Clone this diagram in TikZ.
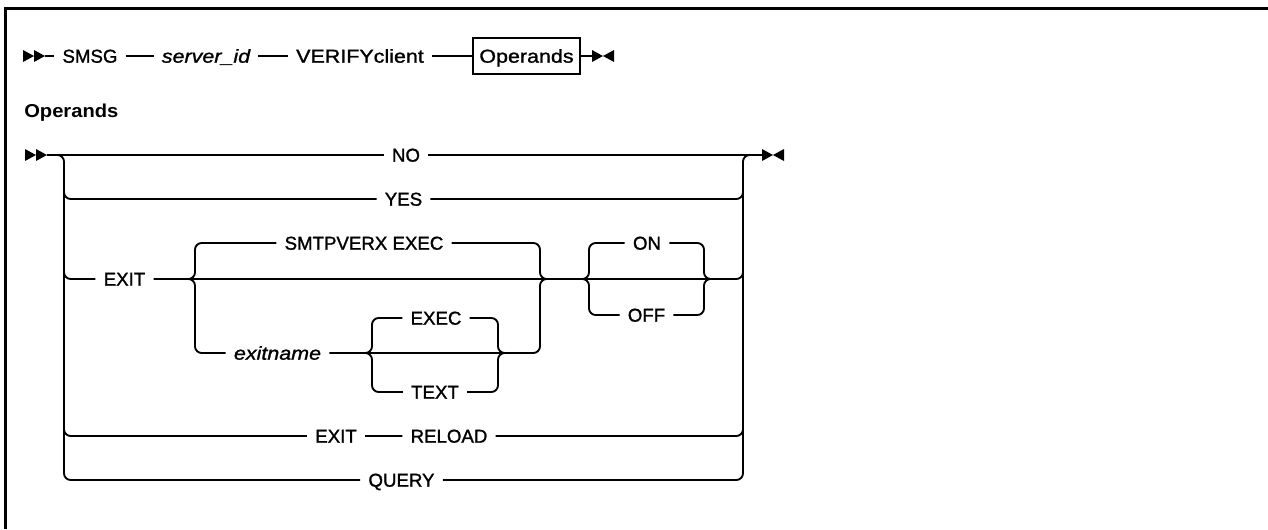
\documentclass[tikz,border=0pt]{standalone}
\usepackage{fontspec}
\setmainfont{Liberation Sans}
\newfontfamily\railfont{Liberation Sans}[FakeBold=1.3]
\newfontfamily\widefont{Liberation Sans}[FakeBold=1.3, FakeStretch=1.15]
\newfontfamily\headfont{Liberation Sans}[FakeStretch=1.08]
\usetikzlibrary{calc}

\begin{document}
\begin{tikzpicture}[
  x=0.75pt,
  y=-0.75pt,
  rail/.style={line width=1.4pt, rounded corners=5pt},
  kw/.style={font=\railfont\fontsize{14}{16}\selectfont, inner xsep=6pt, inner ysep=0pt,
    text height=10pt, text depth=0pt},
  wide/.style={kw, font=\widefont\fontsize{14}{16}\selectfont},
  var/.style={kw, font=\widefont\fontsize{14}{16}\selectfont\itshape},
  ref/.style={wide, draw, line width=1.4pt, inner xsep=5pt, minimum height=27pt},
  start mark/.pic={\fill (0,-6) -- (11,0) -- (0,6) -- cycle
    (11,-6) -- (22,0) -- (11,6) -- cycle;},
  stop mark/.pic={\fill (0,-6) -- (11,0) -- (0,6) -- cycle
    (22,-6) -- (11,0) -- (22,6) -- cycle;}
]
  \useasboundingbox (0,0) rectangle (1268,529);
  \draw[line width=2pt] (5.5,529) |- (1268,8.5);

  % command line
  \pic at (23,56) {start mark};
  \coordinate (s1) at (45,56);
  \node[kw] (smsg) at (90,56) {SMSG};
  \node[var] (srv) at (206,56) {server\_id};
  \node[wide] (verify) at (360,56) {VERIFYclient};
  \node[ref] (opsref) at (526.5,56) {Operands};
  \coordinate (e1) at (592,56);
  \pic at (592,56) {stop mark};
  \draw[rail] (s1) -- (smsg) -- (srv) -- (verify) -- (opsref) -- (e1);

  \node[kw, font=\headfont\fontsize{14}{16}\selectfont\bfseries, anchor=west, inner xsep=0pt]
    (ophead) at (24,111) {Operands};

  % operands fragment
  \pic at (25,155) {start mark};
  \coordinate (s2) at (47,155);
  \coordinate (e2) at (762,155);
  \pic at (762,155) {stop mark};
  \coordinate (lb) at (64,155);
  \coordinate (rb) at (743,155);

  \node[kw] (no) at (406,155) {NO};
  \node[kw] (yes) at (403.5,199) {YES};
  \node[kw] (exit1) at (124.5,279) {EXIT};
  \node[kw] (smtp) at (364,243) {SMTPVERX EXEC};
  \node[var] (exitname) at (277.5,353) {exitname};
  \node[kw] (exec) at (436,318) {EXEC};
  \node[kw] (text) at (435,392) {TEXT};
  \node[kw] (on) at (647,243) {ON};
  \node[kw] (off) at (646.5,315) {OFF};
  \node[kw] (exit2) at (336,436) {EXIT};
  \node[kw] (reload) at (449,436) {RELOAD};
  \node[kw] (query) at (401.5,480) {QUERY};

  \coordinate (exl) at (195,279);
  \coordinate (exr) at (540,279);
  \coordinate (enl) at (372,353);
  \coordinate (enr) at (498,353);
  \coordinate (ool) at (589,279);
  \coordinate (oor) at (704,279);

  % main choice
  \draw[rail] (s2) -- (no) -- (e2);
  \draw[rail] (s2) -| (lb |- query) -- (query) -| (rb) -- (e2);
  \draw[rail] ([yshift=-8pt]lb) |- (yes) -| ([yshift=-8pt]rb);
  \draw[rail] ([yshift=-8pt]lb) |- (exit1) -| ([yshift=-8pt]rb);
  \draw[rail] ([yshift=-8pt]lb) |- (exit2) -- (reload) -| ([yshift=-8pt]rb);

  % exit routine
  \draw[rail] ([xshift=-6pt]exl) -| (exl |- smtp) -- (smtp);
  \draw[rail] ([xshift=-6pt]exl) -| (exl |- exitname) -- (exitname);
  \draw[rail] (smtp) -| (exr) -- ([xshift=6pt]exr);
  \draw[rail] (exitname) -| (exr) -- ([xshift=6pt]exr);

  % exec or text
  \draw[rail] ([xshift=-6pt]enl) -| (enl |- exec) -- (exec);
  \draw[rail] ([xshift=-6pt]enl) -| (enl |- text) -- (text);
  \draw[rail] (exec) -| (enr) -- ([xshift=6pt]enr);
  \draw[rail] (text) -| (enr) -- ([xshift=6pt]enr);

  % on or off
  \draw[rail] ([xshift=-6pt]ool) -| (ool |- on) -- (on);
  \draw[rail] ([xshift=-6pt]ool) -| (ool |- off) -- (off);
  \draw[rail] (on) -| (oor) -- ([xshift=6pt]oor);
  \draw[rail] (off) -| (oor) -- ([xshift=6pt]oor);
\end{tikzpicture}
\end{document}
